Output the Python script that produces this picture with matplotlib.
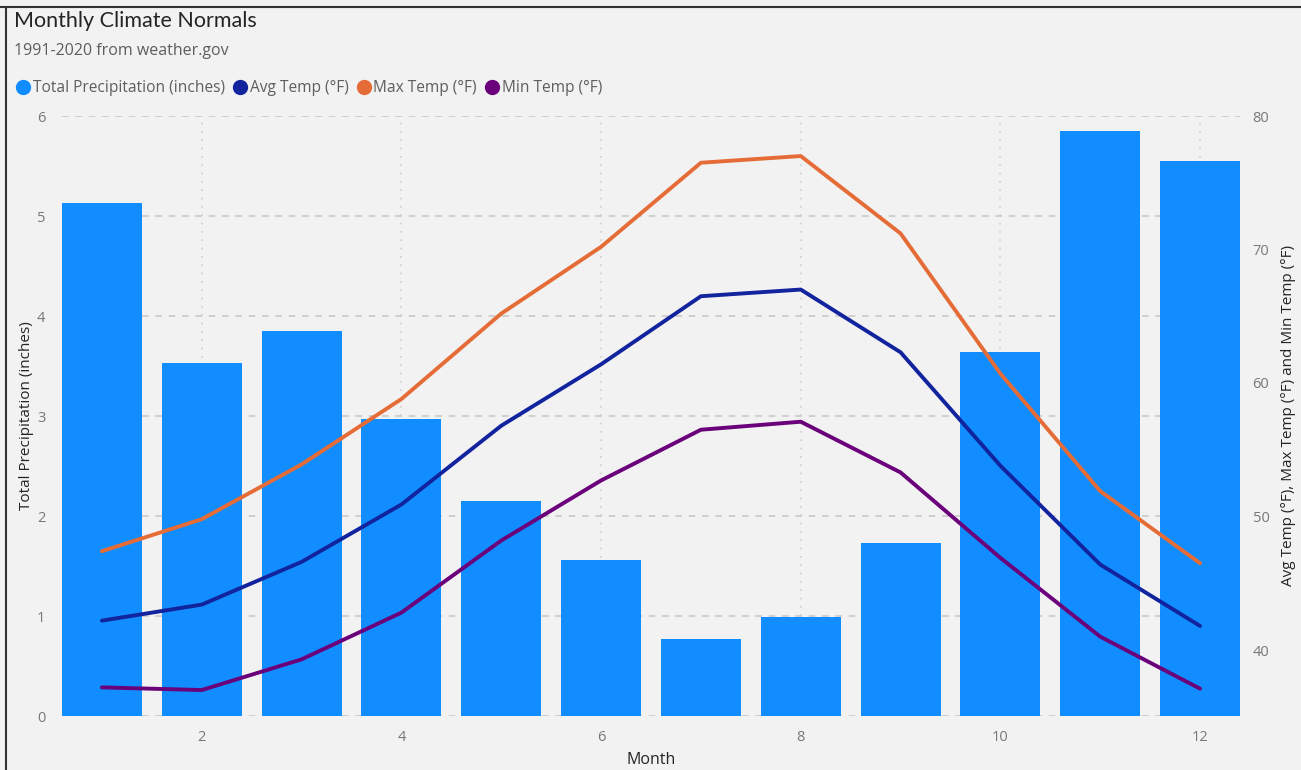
import numpy as np
import matplotlib.pyplot as plt
from matplotlib.lines import Line2D

months = np.arange(1, 13)
precip = [5.13, 3.53, 3.85, 2.97, 2.15, 1.56, 0.77, 0.99, 1.73, 3.64, 5.85, 5.55]
avg_temp = [42.2, 43.4, 46.6, 50.9, 56.8, 61.4, 66.5, 67.0, 62.3, 53.8, 46.4, 41.8]
max_temp = [47.4, 49.8, 53.9, 58.8, 65.2, 70.2, 76.5, 77.0, 71.2, 60.7, 51.9, 46.5]
min_temp = [37.2, 37.0, 39.3, 42.8, 48.2, 52.7, 56.5, 57.1, 53.3, 46.9, 41.0, 37.1]

bg = '#F2F2F2'
c_bar = '#118DFF'
c_avg = '#12239E'
c_max = '#E66C37'
c_min = '#6B007B'
tick_c = '#777777'
text_c = '#252423'

plt.rcParams['font.family'] = ['Open Sans', 'DejaVu Sans']

W, H = 1301, 770
fig = plt.figure(figsize=(W / 100, H / 100), dpi=100, facecolor=bg)
ax = fig.add_axes([62 / W, 1 - 716 / H, (1240 - 62) / W, 600 / H])
ax.set_facecolor(bg)

ax.bar(months, precip, width=0.8, color=c_bar, zorder=2)
ax.set_xlim(0.6, 12.4)
ax.set_ylim(0, 6)
ax.set_yticks(range(7))
ax.set_xticks([2, 4, 6, 8, 10, 12])
ax.grid(axis='y', color='#C8C8C8', linestyle=(0, (4, 4)), linewidth=1.2, zorder=0)
ax.grid(axis='x', color='#CFCFCF', linestyle=(0, (1, 4)), linewidth=1.2, zorder=0)
ax.tick_params(axis='both', length=0, colors=tick_c, labelsize=10.5, pad=10)
ax.tick_params(axis='y', pad=12)
for s in ax.spines.values():
    s.set_visible(False)
ax.set_ylabel('Total Precipitation (inches)', fontsize=11, color=text_c)
ax.yaxis.set_label_coords((34 - 62) / 1178, 0.5)
ax.set_xlabel('Month', fontsize=11.5, color=text_c)
ax.xaxis.set_label_coords(0.5, -(752 - 716) / 600)

ax2 = ax.twinx()
ax2.set_ylim(40 - 66 / 13.35, 80)
ax2.set_yticks([40, 50, 60, 70, 80])
ax2.plot(months, avg_temp, color=c_avg, lw=2.8, solid_capstyle='round', zorder=3)
ax2.plot(months, max_temp, color=c_max, lw=2.8, solid_capstyle='round', zorder=3)
ax2.plot(months, min_temp, color=c_min, lw=2.8, solid_capstyle='round', zorder=3)
ax2.tick_params(axis='y', length=0, colors=tick_c, labelsize=10.5, pad=9)
for s in ax2.spines.values():
    s.set_visible(False)
ax2.set_ylabel('Avg Temp (°F), Max Temp (°F) and Min Temp (°F)', fontsize=11,
               color=text_c, rotation=90)
ax2.yaxis.set_label_coords((1281 - 62) / 1178, 0.5)

# title block and legend
fig.text(14 / W, 1 - 21 / H, 'Monthly Climate Normals', fontsize=15.5,
         color=text_c, va='center', family=['Lato', 'DejaVu Sans'])
fig.text(14 / W, 1 - 51 / H, '1991-2020 from weather.gov', fontsize=11.5,
         color='#605E5C', va='center')
handles = [Line2D([], [], marker='o', ls='', color=c, markersize=10)
           for c in (c_bar, c_avg, c_max, c_min)]
labels = ['Total Precipitation (inches)', 'Avg Temp (°F)', 'Max Temp (°F)', 'Min Temp (°F)']
fig.legend(handles, labels, loc='center left', bbox_to_anchor=(0 / W, 1 - 88 / H),
           ncol=4, frameon=False, fontsize=11.2, handletextpad=0.0, columnspacing=0.4,
           handlelength=1.2, labelcolor='#605E5C')

# panel border along top and left
fig.add_artist(Line2D([0, 1], [1 - 7 / H] * 2, color='#333333', lw=1.5,
                      transform=fig.transFigure))
fig.add_artist(Line2D([6 / W] * 2, [0, 1 - 7 / H], color='#333333', lw=1.5,
                      transform=fig.transFigure))

fig.savefig('out.png', dpi=100, facecolor=bg)
